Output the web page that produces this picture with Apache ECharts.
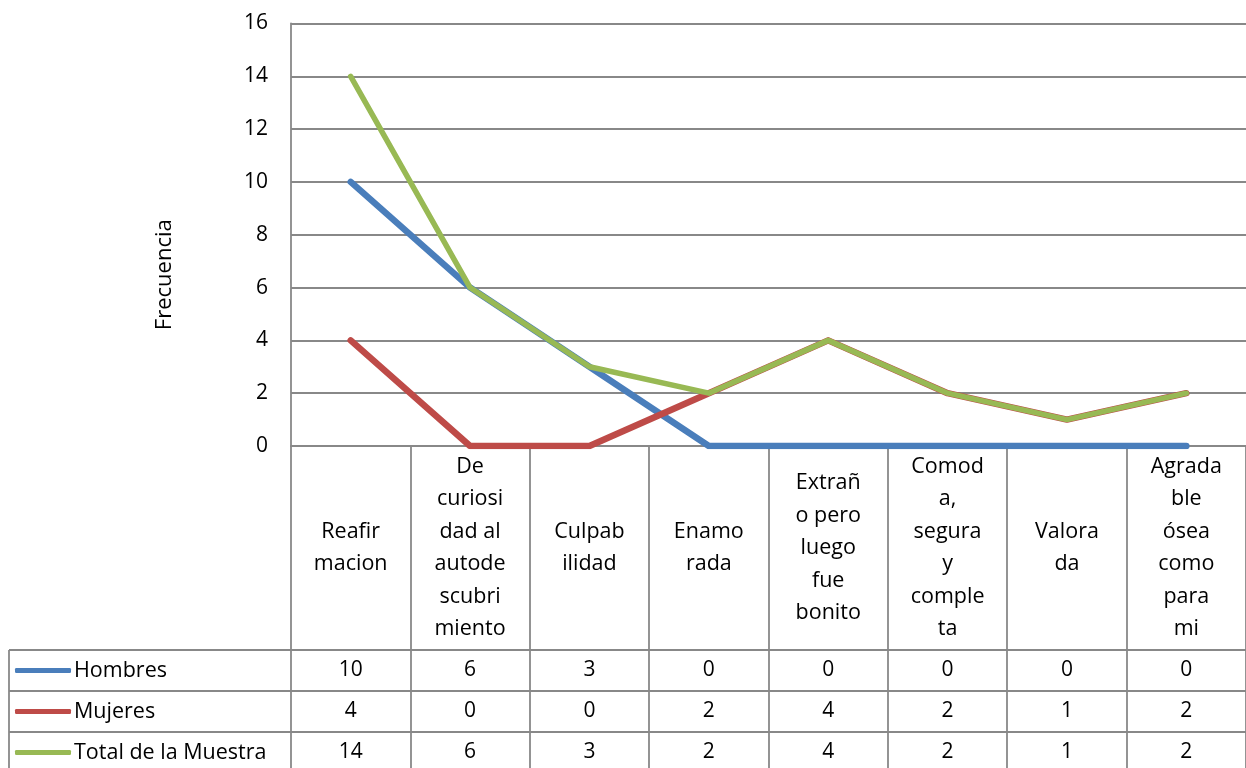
<!DOCTYPE html>
<html>
<head>
<meta charset="utf-8">
<script src="https://cdn.jsdelivr.net/npm/echarts@6/dist/echarts.min.js"></script>
<style>html,body{margin:0;padding:0;background:#fff}#c{width:1246px;height:768px}</style>
</head>
<body>
<div id="c"></div>
<script>
const categories = ["Reafir\nmacion", "De\ncuriosi\ndad al\nautode\nscubri\nmiento", "Culpab\nilidad", "Enamo\nrada", "Extrañ\no pero\nluego\nfue\nbonito", "Comod\na,\nsegura\ny\ncomple\nta", "Valora\nda", "Agrada\nble\nósea\ncomo\npara\nmi"];
const seriesNames = ["Hombres", "Mujeres", "Total de la Muestra"];
const hombres = [10, 6, 3, 0, 0, 0, 0, 0];
const mujeres = [4, 0, 0, 2, 4, 2, 1, 2];
const total = [14, 6, 3, 2, 4, 2, 1, 2];
const yTicks = [0, 2, 4, 6, 8, 10, 12, 14, 16];
const colors = ["#4A7EBB", "#BE4B48", "#98B954"];

const FONT = "Open Sans";
const GRID_LEFT = 291, GRID_TOP = 23.5, AXIS_Y = 446, GRID_W = 962.4;
const CAT_ROW = 204, ROW_H = 41;
const LINE = "#888888";
const LW = 1.8;

const chart = echarts.init(document.getElementById('c'), null, {renderer: 'canvas'});
const rows = [hombres, mujeres, total];

const xAxes = [{
  type: 'category', data: categories, boundaryGap: true, position: 'bottom',
  axisLine: {show: true, lineStyle: {color: LINE, width: LW}},
  axisTick: {show: true, length: CAT_ROW, interval: 0, lineStyle: {color: LINE, width: LW}},
  axisLabel: {interval: 0, margin: CAT_ROW / 2, verticalAlign: 'middle', align: 'center',
    fontFamily: FONT, fontSize: 21.5, lineHeight: 32.5, color: '#000'},
  splitLine: {show: false}
}];
rows.forEach((vals, r) => {
  xAxes.push({
    type: 'category', data: categories, boundaryGap: true, position: 'bottom',
    offset: CAT_ROW + r * ROW_H,
    axisLine: {show: true, lineStyle: {color: LINE, width: LW}},
    axisTick: {show: true, length: ROW_H, interval: 0, lineStyle: {color: LINE, width: LW}},
    axisLabel: {interval: 0, margin: ROW_H / 2, verticalAlign: 'middle', align: 'center',
      fontFamily: FONT, fontSize: 21, color: '#000',
      formatter: (v, i) => String(vals[i])},
    splitLine: {show: false}
  });
});

const legends = seriesNames.map((name, i) => ({
  orient: 'vertical', left: 15, top: 650 + i * ROW_H, padding: 0, itemGap: 0,
  itemWidth: 56, itemHeight: 5, icon: 'roundRect',
  textStyle: {fontFamily: FONT, fontSize: 21.5, color: '#000', lineHeight: ROW_H, padding: [0,0,0,-2]},
  data: [name]
}));

const option = {
  backgroundColor: '#fff',
  animation: false,
  color: colors,
  grid: {left: GRID_LEFT, top: GRID_TOP, width: GRID_W, height: AXIS_Y - GRID_TOP, containLabel: false},
  legend: legends,
  xAxis: xAxes,
  yAxis: {
    type: 'value', min: yTicks[0], max: yTicks[yTicks.length - 1], interval: 2,
    name: 'Frecuencia', nameLocation: 'middle', nameGap: 115, nameRotate: 90,
    nameTextStyle: {fontFamily: FONT, fontSize: 22, color: '#000', padding: [0, 80, 0, 0]},
    axisLine: {show: true, lineStyle: {color: LINE, width: LW}},
    axisTick: {show: false},
    axisLabel: {margin: 23, fontFamily: FONT, fontSize: 21, color: '#000'},
    splitLine: {show: true, lineStyle: {color: LINE, width: LW}}
  },
  graphic: [
    {type: 'line', shape: {x1: 9, y1: 650, x2: GRID_LEFT, y2: 650}, style: {stroke: LINE, lineWidth: LW}},
    {type: 'line', shape: {x1: 9, y1: 691, x2: GRID_LEFT, y2: 691}, style: {stroke: LINE, lineWidth: LW}},
    {type: 'line', shape: {x1: 9, y1: 732, x2: GRID_LEFT, y2: 732}, style: {stroke: LINE, lineWidth: LW}},
    {type: 'line', shape: {x1: 9, y1: 650, x2: 9, y2: 770}, style: {stroke: LINE, lineWidth: LW}}
  ],
  series: rows.map((vals, i) => ({
    type: 'line', name: seriesNames[i], data: vals, xAxisIndex: 0,
    showSymbol: false, symbol: 'none',
    lineStyle: {width: i === 2 ? 5.5 : 6.5, color: colors[i], cap: 'round', join: 'round'},
    itemStyle: {color: colors[i]},
    z: 2 + i
  }))
};
chart.setOption(option);
</script>
</body>
</html>
